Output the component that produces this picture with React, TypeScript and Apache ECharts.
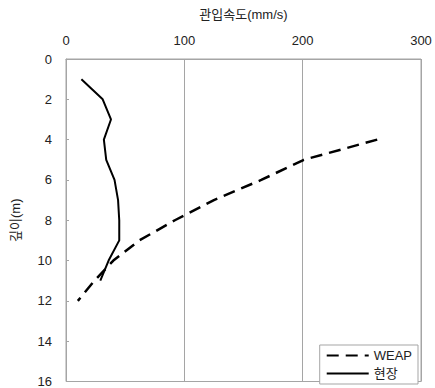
import React, { useEffect, useRef } from "react";
import * as echarts from "echarts";

const weapDepth = [4, 5, 6, 7, 8, 9, 10, 11, 12];
const weapSpeed = [263, 201, 165, 125, 92, 62, 40, 24, 10];
const fieldDepth = [1, 2, 3, 4, 5, 6, 7, 8, 9, 10, 11];
const fieldSpeed = [13, 31, 38, 32, 34, 41, 44, 45, 45, 36, 29];
const seriesNames = ["WEAP", "현장"];
const xTitle = "관입속도(mm/s)";
const yTitle = "깊이(m)";

const FONT = "'Liberation Sans', 'Noto Sans CJK KR', sans-serif";

export default function App() {
  const ref = useRef<HTMLDivElement>(null);
  useEffect(() => {
    if (!ref.current) return;
    const chart = echarts.init(ref.current, undefined, { renderer: "svg" });
    chart.setOption({
      animation: false,
      backgroundColor: "#fff",
      textStyle: { fontFamily: FONT },
      grid: {
        left: 66,
        top: 59,
        right: 14,
        bottom: 5,
        show: true,
        borderColor: "#a5a5a5",
        borderWidth: 1,
      },
      xAxis: {
        type: "value",
        position: "top",
        min: 0,
        max: 300,
        interval: 100,
        name: xTitle,
        nameLocation: "middle",
        nameGap: 38,
        nameTextStyle: { fontSize: 13, color: "#222", fontFamily: FONT },
        axisLine: { show: true, lineStyle: { color: "#a5a5a5" } },
        axisTick: { show: false },
        axisLabel: { fontSize: 13, color: "#222", margin: 12, fontFamily: FONT },
        splitLine: { show: true, lineStyle: { color: "#a5a5a5", width: 1 } },
      },
      yAxis: {
        type: "value",
        inverse: true,
        min: 0,
        max: 16,
        interval: 2,
        name: yTitle,
        nameLocation: "middle",
        nameGap: 44,
        nameRotate: 90,
        nameTextStyle: { fontSize: 13, color: "#222222", fontFamily: FONT },
        axisLine: { show: true, lineStyle: { color: "#a5a5a5" } },
        axisTick: { show: true, inside: true, length: 3, lineStyle: { color: "#a5a5a5" } },
        axisLabel: { fontSize: 13, color: "#222", margin: 14, fontFamily: FONT },
        splitLine: { show: false },
      },
      legend: {
        orient: "vertical",
        right: 17,
        bottom: 4,
        backgroundColor: "#fff",
        borderColor: "#a5a5a5",
        borderWidth: 1,
        padding: [4, 6, 4, 6],
        itemGap: 5,
        itemWidth: 42,
        itemHeight: 12,
        itemStyle: { opacity: 0 },
        textStyle: { fontSize: 13, color: "#222", fontFamily: FONT },
        data: seriesNames,
      },
      series: [
        {
          name: seriesNames[0],
          type: "line",
          symbol: "none",
          data: weapSpeed.map((v, i) => [v, weapDepth[i]]),
          lineStyle: { color: "#000", width: 2.5, type: [12, 7] },
          itemStyle: { color: "#000" },
        },
        {
          name: seriesNames[1],
          type: "line",
          symbol: "none",
          data: fieldSpeed.map((v, i) => [v, fieldDepth[i]]),
          lineStyle: { color: "#000", width: 2 },
          itemStyle: { color: "#000" },
        },
      ],
    });
    return () => chart.dispose();
  }, []);
  return <div ref={ref} style={{ width: 435, height: 388, position: "absolute", left: 0, top: 0 }} />;
}
